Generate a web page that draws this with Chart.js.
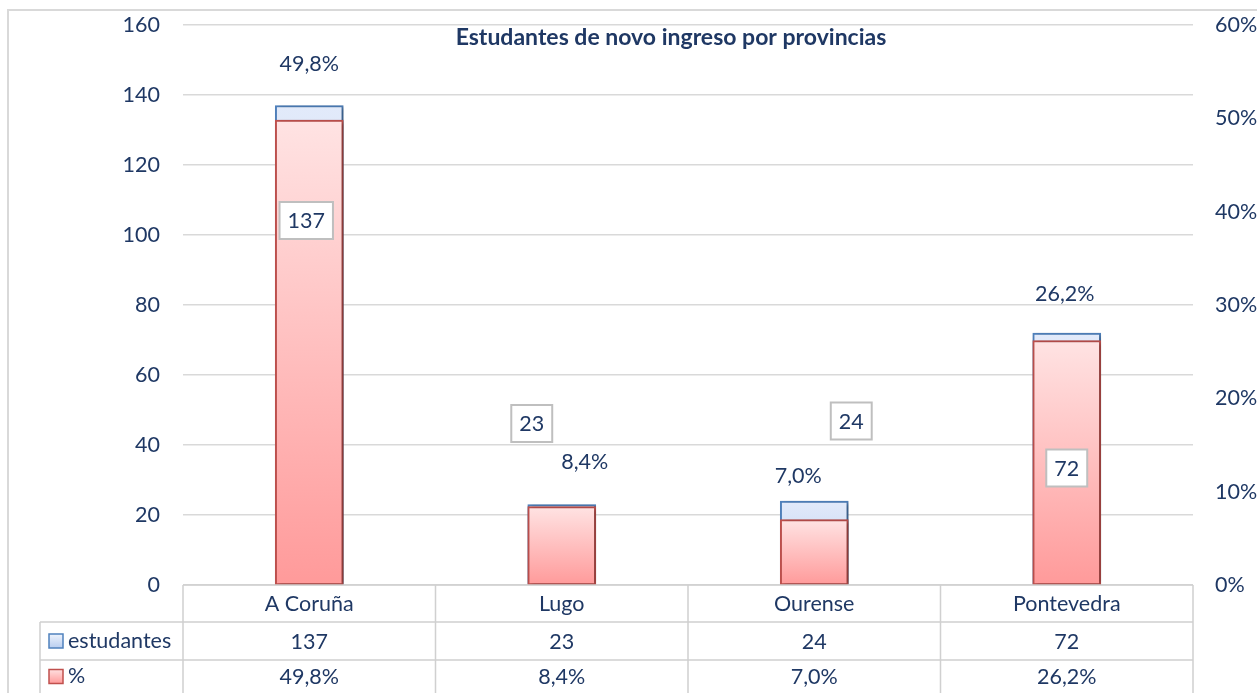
<!DOCTYPE html>
<html><head><meta charset="utf-8">
<script src="https://cdn.jsdelivr.net/npm/chart.js@4.4.1/dist/chart.umd.min.js"></script>
<style>html,body{margin:0;padding:0;background:#fff;overflow:hidden}</style>
</head><body>
<canvas id="c" width="1257" height="693" style="width:1257px;height:693px;display:block"></canvas>
<script>
// ---- data ----
const categories = ['A Coruña', 'Lugo', 'Ourense', 'Pontevedra'];
const estudantes = [137, 23, 24, 72];
const percent = [49.8, 8.4, 7.0, 26.2];
const seriesNames = ['estudantes', '%'];
const chartTitle = 'Estudantes de novo ingreso por provincias';
const leftAxis = { min: 0, max: 160, step: 20 };
const rightAxis = { min: 0, max: 60, step: 10 };

// ---- label placement (manual offsets as in the original, in px from bar top) ----
const countLabelOffset = [[-3, 115], [-30, -81], [37, -80], [0, 135]];
const pctLabelOffset = [[0, -56], [23, -45], [-16, -44], [-2, -46]];

const NAVY = '#1f3864';
const FONT = 'Lato, "Noto Sans", sans-serif';
const FS = 21.5;
const GRID = '#d9d9d9';
const fmtPct = v => v.toFixed(1).replace('.', ',') + '%';

function barGradient(ctx, scaleId, colors) {
  const chart = ctx.chart;
  const area = chart.chartArea;
  if (!area || ctx.dataIndex === undefined) return colors[1];
  const scale = chart.scales[scaleId];
  const v = ctx.dataset.data[ctx.dataIndex];
  const top = scale.getPixelForValue(v);
  const g = chart.ctx.createLinearGradient(0, top, 0, area.bottom);
  g.addColorStop(0, colors[0]);
  g.addColorStop(1, colors[1]);
  return g;
}

const shadowPlugin = {
  id: 'shadow',
  beforeDatasetsDraw(chart) {
    const c = chart.ctx; c.save();
    c.shadowColor = 'rgba(0,0,0,0.35)'; c.shadowBlur = 4; c.shadowOffsetX = 2; c.shadowOffsetY = 1;
  },
  afterDatasetsDraw(chart) { chart.ctx.restore(); }
};

const decorPlugin = {
  id: 'decor',
  beforeDraw(chart) {
    const c = chart.ctx;
    c.save();
    c.fillStyle = '#fff'; c.fillRect(0, 0, chart.width, chart.height);
    c.strokeStyle = GRID; c.lineWidth = 2;
    c.beginPath(); c.moveTo(8, chart.height); c.lineTo(8, 10); c.lineTo(chart.width, 10); c.stroke();
    c.restore();
  },
  afterDraw(chart) {
    const c = chart.ctx;
    const a = chart.chartArea;
    const xs = chart.scales.x;
    const n = categories.length;
    const cw = (a.right - a.left) / n;
    c.save();
    // title
    c.fillStyle = NAVY;
    c.font = 'bold 23px ' + FONT;
    c.textAlign = 'center'; c.textBaseline = 'middle';
    c.fillText(chartTitle, (a.left + a.right) / 2 - 17, 38);

    // data table
    const row1 = a.bottom + 37, row2 = a.bottom + 75, bottom = chart.height;
    const legendLeft = 40;
    c.strokeStyle = '#d0d0d0'; c.lineWidth = 1.5;
    c.beginPath();
    c.moveTo(a.left, a.bottom); c.lineTo(a.right, a.bottom);
    c.moveTo(legendLeft, row1); c.lineTo(a.right, row1);
    c.moveTo(legendLeft, row2); c.lineTo(a.right, row2);
    c.moveTo(legendLeft, row1); c.lineTo(legendLeft, bottom);
    for (let i = 0; i <= n; i++) {
      const x = a.left + i * cw;
      c.moveTo(x, a.bottom); c.lineTo(x, bottom);
    }
    c.stroke();

    c.fillStyle = NAVY; c.font = FS + 'px ' + FONT;
    c.textAlign = 'center'; c.textBaseline = 'middle';
    for (let i = 0; i < n; i++) {
      const x = xs.getPixelForValue(i);
      c.fillText(categories[i], x, (a.bottom + row1) / 2 + 1);
      c.fillText(String(estudantes[i]), x, (row1 + row2) / 2 + 1);
      c.fillText(fmtPct(percent[i]), x, (row2 + bottom) / 2 + 1);
    }
    // legend keys
    const keys = [
      { y: (row1 + row2) / 2, fill: ['#eef3fc', '#b8cdef'], stroke: '#4f81bd', label: seriesNames[0] },
      { y: (row2 + bottom) / 2, fill: ['#ffe0e0', '#ff9a9a'], stroke: '#c0504d', label: seriesNames[1] }
    ];
    keys.forEach(k => {
      const g = c.createLinearGradient(0, k.y - 7, 0, k.y + 7);
      g.addColorStop(0, k.fill[0]); g.addColorStop(1, k.fill[1]);
      c.fillStyle = g; c.fillRect(49, k.y - 7, 14, 14);
      c.strokeStyle = k.stroke; c.lineWidth = 1.5; c.strokeRect(49, k.y - 7, 14, 14);
      c.fillStyle = NAVY; c.textAlign = 'left';
      c.fillText(k.label, 68, k.y);
    });

    // data labels
    const m0 = chart.getDatasetMeta(1); // estudantes
    const m1 = chart.getDatasetMeta(0); // %
    c.textAlign = 'center'; c.textBaseline = 'middle'; c.font = FS + 'px ' + FONT;
    for (let i = 0; i < n; i++) {
      const b = m0.data[i];
      const t = String(estudantes[i]);
      const lx = b.x + countLabelOffset[i][0], ly = b.y + countLabelOffset[i][1];
      const w = c.measureText(t).width + 16, h = 37;
      c.fillStyle = '#fff'; c.fillRect(lx - w / 2, ly - h / 2, w, h);
      c.strokeStyle = '#bfbfbf'; c.lineWidth = 2; c.strokeRect(lx - w / 2, ly - h / 2, w, h);
      c.fillStyle = NAVY; c.fillText(t, lx, ly + 1);

      const p = m1.data[i];
      c.fillText(fmtPct(percent[i]), p.x + pctLabelOffset[i][0], p.y + pctLabelOffset[i][1]);
    }
    c.restore();
  }
};

new Chart(document.getElementById('c'), {
  type: 'bar',
  data: {
    labels: categories,
    datasets: [
      {
        label: seriesNames[1], data: percent, yAxisID: 'y1', order: 0, grouped: false,
        backgroundColor: ctx => barGradient(ctx, 'y1', ['#ffe3e3', '#ff9a9a']),
        borderColor: '#c0504d', borderWidth: 2, borderSkipped: false, barThickness: 68
      },
      {
        label: seriesNames[0], data: estudantes, yAxisID: 'y', order: 1, grouped: false,
        backgroundColor: ctx => barGradient(ctx, 'y', ['#e2eafa', '#b8cdef']),
        borderColor: '#4f81bd', borderWidth: 2, borderSkipped: false, barThickness: 68
      }
    ]
  },
  options: {
    responsive: false, animation: false, devicePixelRatio: 1,
    layout: { padding: { top: 25, bottom: 0, left: 0, right: 0 } },
    plugins: { legend: { display: false }, title: { display: false }, tooltip: { enabled: false } },
    scales: {
      x: {
        ticks: { display: false },
        grid: { display: false },
        border: { display: false },
        afterFit(s) { s.height = 108; s.paddingLeft = 0; s.paddingRight = 0; }
      },
      y: {
        position: 'left', min: leftAxis.min, max: leftAxis.max,
        ticks: { stepSize: leftAxis.step, color: NAVY, font: { family: FONT, size: FS }, padding: 23 },
        grid: { color: GRID, lineWidth: 1.5, drawTicks: false },
        border: { display: false },
        afterFit(s) { s.width = 183; s.paddingTop = 0; s.paddingBottom = 0; }
      },
      y1: {
        position: 'right', min: rightAxis.min, max: rightAxis.max,
        ticks: { stepSize: rightAxis.step, color: NAVY, font: { family: FONT, size: FS }, padding: 22, callback: v => v + '%' },
        grid: { display: false, drawTicks: false },
        border: { display: false },
        afterFit(s) { s.width = 64; s.paddingTop = 0; s.paddingBottom = 0; }
      }
    }
  },
  plugins: [decorPlugin, shadowPlugin]
});
</script>
</body></html>
